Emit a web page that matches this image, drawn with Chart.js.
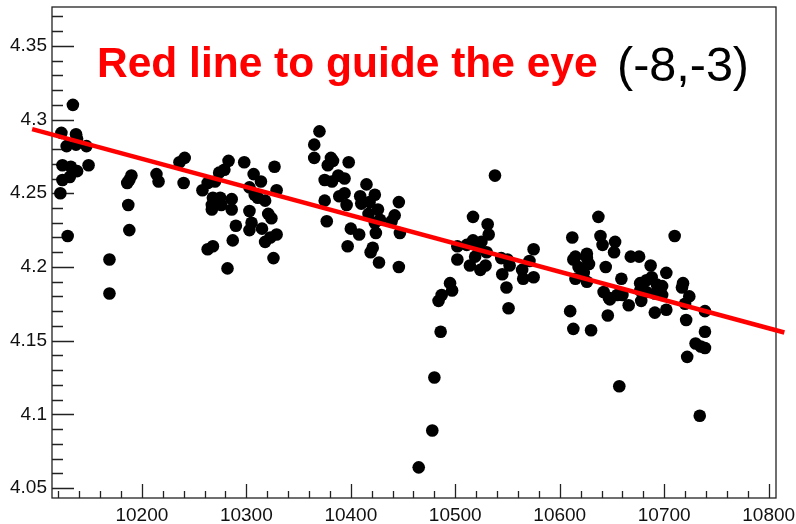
<!DOCTYPE html>
<html>
<head>
<meta charset="utf-8">
<script src="https://cdn.jsdelivr.net/npm/chart.js@4/dist/chart.umd.min.js"></script>
<style>
  html, body { margin: 0; padding: 0; background: #fff; }
  #wrap { width: 796px; height: 524px; }
</style>
</head>
<body>
<div id="wrap"><canvas id="plot"></canvas></div>
<script>
// measurements: run number vs value
const runs = [
  10134, 10123, 10137, 10138, 10128, 10137, 10147, 10124, 10132, 10138, 10149, 10131, 10124, 10122, 10129,
  10190, 10188, 10186, 10187, 10188, 10169, 10169, 10214, 10216,
  10241, 10236, 10240, 10283, 10298, 10327, 10279, 10274, 10307, 10314, 10263, 10270, 10258, 10303, 10329,
  10308, 10318, 10311, 10275, 10268, 10286, 10267, 10276, 10267, 10286, 10303, 10321, 10324, 10290, 10305,
  10303, 10315, 10329, 10323, 10318, 10287, 10268, 10263, 10326, 10282,
  10370, 10365, 10365, 10381, 10383, 10378, 10398, 10388, 10394, 10375, 10382, 10415, 10394, 10389, 10423,
  10409, 10375, 10410, 10396, 10418, 10426, 10417, 10446, 10442, 10439, 10428, 10377, 10423, 10400, 10408,
  10424, 10447, 10397, 10421, 10419, 10427, 10446,
  10465, 10478, 10480, 10486, 10484, 10487, 10495, 10497, 10502, 10502,
  10538, 10517, 10531, 10532, 10511, 10517, 10525, 10522, 10530, 10519, 10514, 10529, 10524,
  10544, 10550, 10552, 10545, 10549, 10551, 10575, 10571, 10564, 10565, 10575,
  10637, 10612, 10639, 10641, 10653, 10652, 10626, 10626, 10628, 10615, 10613, 10618, 10623, 10615, 10626,
  10644, 10668, 10676, 10687, 10702, 10659, 10642, 10647, 10655, 10660, 10648, 10666, 10677, 10683, 10688,
  10693, 10698, 10677, 10683, 10691, 10698, 10678, 10691, 10702, 10610, 10613, 10630, 10646, 10657,
  10710, 10718, 10717, 10724, 10720, 10739, 10721, 10739, 10730, 10735, 10739, 10722, 10734
];
const values = [
  4.310, 4.291, 4.290, 4.287, 4.282, 4.283, 4.282, 4.269, 4.268, 4.265, 4.269, 4.261, 4.259, 4.250, 4.221,
  4.262, 4.259, 4.257, 4.242, 4.225, 4.205, 4.182, 4.263, 4.258,
  4.274, 4.271, 4.257, 4.272, 4.271, 4.268, 4.266, 4.264, 4.263, 4.258, 4.257, 4.258, 4.252, 4.254, 4.252,
  4.249, 4.245, 4.247, 4.247, 4.247, 4.246, 4.242, 4.242, 4.239, 4.239, 4.238, 4.236, 4.233, 4.228, 4.230,
  4.225, 4.226, 4.222, 4.220, 4.217, 4.218, 4.214, 4.212, 4.206, 4.199,
  4.292, 4.283, 4.274, 4.274, 4.272, 4.269, 4.271, 4.262, 4.260, 4.259, 4.258, 4.256, 4.250, 4.248, 4.249,
  4.248, 4.245, 4.243, 4.242, 4.244, 4.239, 4.236, 4.244, 4.235, 4.231, 4.232, 4.231, 4.230, 4.226, 4.222,
  4.223, 4.223, 4.214, 4.213, 4.210, 4.203, 4.200,
  4.064, 4.089, 4.125, 4.156, 4.177, 4.181, 4.189, 4.184, 4.214, 4.205,
  4.262, 4.234, 4.229, 4.222, 4.215, 4.218, 4.217, 4.213, 4.210, 4.207, 4.201, 4.201, 4.198,
  4.206, 4.205, 4.201, 4.195, 4.186, 4.172, 4.212, 4.204, 4.198, 4.192, 4.193,
  4.234, 4.220, 4.221, 4.215, 4.217, 4.210, 4.209, 4.206, 4.202, 4.207, 4.205, 4.200, 4.196, 4.192, 4.190,
  4.200, 4.207, 4.207, 4.201, 4.196, 4.192, 4.183, 4.179, 4.181, 4.181, 4.178, 4.174, 4.189, 4.191, 4.193,
  4.188, 4.187, 4.184, 4.183, 4.182, 4.181, 4.177, 4.169, 4.171, 4.170, 4.158, 4.157, 4.167, 4.119,
  4.221, 4.189, 4.186, 4.180, 4.175, 4.170, 4.164, 4.156, 4.148, 4.146, 4.145, 4.139, 4.099
];

// guide line end points
const guideX = [10095, 10815];
const guideY = [4.2935, 4.1555];

// axis labels
const xTicks = [10200, 10300, 10400, 10500, 10600, 10700, 10800];
const xTickLabels = ['10200', '10300', '10400', '10500', '10600', '10700', '10800'];
const yTicks = [4.05, 4.1, 4.15, 4.2, 4.25, 4.3, 4.35];
const yTickLabels = ['4.05', '4.1', '4.15', '4.2', '4.25', '4.3', '4.35'];

const FONT = '"Liberation Sans", Arial, Helvetica, sans-serif';

// ROOT-style frame: ticks pointing inwards on left and bottom, plain top/right
const framePlugin = {
  id: 'frame',
  beforeDatasetsDraw(chart) {
    const { ctx, chartArea: a, scales: { x, y } } = chart;
    ctx.save();
    ctx.strokeStyle = '#222';
    ctx.lineWidth = 1.3;
    ctx.strokeRect(a.left, a.top, a.right - a.left, a.bottom - a.top);
    ctx.beginPath();
    for (let v = 10120; v <= 10800; v += 20) {
      const px = Math.round(x.getPixelForValue(v)) + 0.5;
      const len = v % 100 === 0 ? 14 : 7;
      ctx.moveTo(px, a.bottom);
      ctx.lineTo(px, a.bottom - len);
    }
    for (let i = 405; i <= 437; i++) {
      const v = i / 100;
      const py = Math.round(y.getPixelForValue(v)) + 0.5;
      const len = i % 5 === 0 ? 22 : 11;
      ctx.moveTo(a.left, py);
      ctx.lineTo(a.left + len, py);
    }
    ctx.stroke();
    ctx.restore();
  },
  afterDraw(chart) {
    const { ctx } = chart;
    ctx.save();
    ctx.textBaseline = 'alphabetic';
    ctx.fillStyle = '#ff0000';
    ctx.font = 'bold 42.5px ' + FONT;
    ctx.fillText('Red line to guide the eye', 97, 77);
    ctx.fillStyle = '#000';
    ctx.font = '48.5px ' + FONT;
    ctx.fillText('(-8,-3)', 617, 81);
    ctx.restore();
  }
};

// keep the tick labels from pushing the plot frame inwards
function noOverhang(s) {
  s.paddingLeft = 0;
  s.paddingRight = 0;
  s.paddingTop = 0;
  s.paddingBottom = 0;
}

new Chart(document.getElementById('plot'), {
  type: 'scatter',
  data: {
    datasets: [
      {
        type: 'line',
        data: guideX.map((v, i) => ({ x: v, y: guideY[i] })),
        borderColor: '#ff0000',
        borderWidth: 4.5,
        pointRadius: 0,
        clip: false
      },
      {
        data: runs.map((v, i) => ({ x: v, y: values[i] })),
        backgroundColor: '#000',
        borderWidth: 0,
        pointRadius: 6.3
      }
    ]
  },
  options: {
    responsive: true,
    maintainAspectRatio: false,
    animation: false,
    layout: { padding: { top: 7, right: 20, left: 0, bottom: 0 } },
    plugins: { legend: { display: false }, tooltip: { enabled: false } },
    scales: {
      x: {
        type: 'linear',
        min: 10114,
        max: 10807,
        grid: { display: false, drawTicks: false },
        border: { display: false },
        afterFit: s => { s.height = 26; noOverhang(s); },
        afterBuildTicks: s => { s.ticks = xTicks.map(v => ({ value: v })); },
        ticks: {
          autoSkip: false,
          maxRotation: 0,
          padding: 6,
          color: '#111',
          font: { family: FONT, size: 19 },
          callback: v => xTickLabels[xTicks.indexOf(v)]
        }
      },
      y: {
        min: 4.0432,
        max: 4.3764,
        grid: { display: false, drawTicks: false },
        border: { display: false },
        afterFit: s => { s.width = 52; noOverhang(s); },
        afterBuildTicks: s => { s.ticks = yTicks.map(v => ({ value: v })); },
        ticks: {
          autoSkip: false,
          padding: 5,
          color: '#111',
          font: { family: FONT, size: 19 },
          callback: v => yTickLabels[yTicks.indexOf(v)]
        }
      }
    }
  },
  plugins: [framePlugin]
});
</script>
</body>
</html>
